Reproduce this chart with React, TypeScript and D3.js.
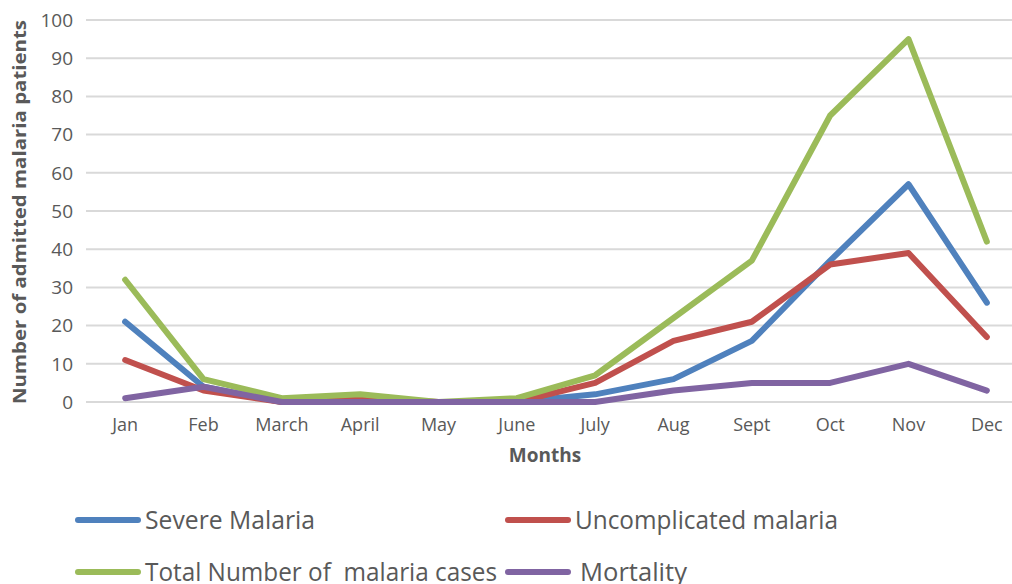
import * as d3 from "d3"

const MONTHS = ["Jan", "Feb", "March", "April", "May", "June", "July", "Aug", "Sept", "Oct", "Nov", "Dec"]
const SEVERE = [21, 4, 0, 0, 0, 0, 2, 6, 16, 37, 57, 26]
const UNCOMPLICATED = [11, 3, 0, 1, 0, 0, 5, 16, 21, 36, 39, 17]
const TOTAL = [32, 6, 1, 2, 0, 1, 7, 22, 37, 75, 95, 42]
const MORTALITY = [1, 4, 0, 0, 0, 0, 0, 3, 5, 5, 10, 3]
const Y_TICKS = [0, 10, 20, 30, 40, 50, 60, 70, 80, 90, 100]

const SERIES = [
  { name: "Severe Malaria", values: SEVERE, color: "#4F81BD" },
  { name: "Uncomplicated malaria", values: UNCOMPLICATED, color: "#C0504D" },
  { name: "Total Number of  malaria cases", values: TOTAL, color: "#9BBB59" },
  { name: "Mortality", values: MORTALITY, color: "#8064A2" },
]

const W = 1012
const H = 584
const FONT = "'Open Sans', 'Noto Sans', sans-serif"

// legend slots: [lineX, textX, y, textWidth]
const LEGEND_POS: [number, number, number, number][] = [
  [78, 145, 520, 170],
  [508, 575, 520, 263],
  [78, 145, 572, 352],
  [508, 580, 572, 107],
]

export default function App() {
  const x = d3.scaleBand<string>().domain(MONTHS).range([86, 1026])
  const y = d3.scaleLinear().domain([0, 100]).range([402, 20])
  const cx = (m: string) => (x(m) ?? 0) + x.bandwidth() / 2

  const line = d3
    .line<number>()
    .x((_, i) => cx(MONTHS[i]))
    .y((d) => y(d))

  return (
    <div style={{ position: "absolute", left: 0, top: 0 }}>
      <svg width={W} height={H} viewBox={`0 0 ${W} ${H}`} style={{ display: "block", background: "#fff" }}>
        <rect width={W} height={H} fill="#fff" />
        {Y_TICKS.map((t) => (
          <g key={t}>
            <line x1={86} x2={W} y1={y(t)} y2={y(t)} stroke="#D9D9D9" strokeWidth={2} />
            <text
              x={73}
              y={y(t)}
              dy="0.36em"
              textAnchor="end"
              fontFamily={FONT}
              fontSize={19}
              fill="#595959"
            >
              {t}
            </text>
          </g>
        ))}

        {MONTHS.map((m) => (
          <text key={m} x={cx(m)} y={431} textAnchor="middle" fontFamily={FONT} fontSize={18} fill="#595959">
            {m}
          </text>
        ))}

        {SERIES.map((s) => (
          <path
            key={s.name}
            d={line(s.values) ?? ""}
            fill="none"
            stroke={s.color}
            strokeWidth={6}
            strokeLinejoin="round"
            strokeLinecap="round"
          />
        ))}

        <text
          transform="translate(26, 212) rotate(-90)"
          textAnchor="middle"
          fontFamily={FONT}
          fontSize={18}
          fontWeight="bold"
          fill="#595959"
          textLength={384}
          lengthAdjust="spacingAndGlyphs"
        >
          Number of admitted malaria patients
        </text>
        <text x={545} y={462} textAnchor="middle" fontFamily={FONT} fontSize={19} fontWeight="bold" fill="#595959">
          Months
        </text>

        {SERIES.map((s, i) => {
          const [lx, tx, ly, tw] = LEGEND_POS[i]
          return (
            <g key={s.name}>
              <line x1={lx} x2={lx + 60} y1={ly} y2={ly} stroke={s.color} strokeWidth={6} strokeLinecap="round" />
              <text
                x={tx}
                y={ly}
                dy="0.36em"
                fontFamily={FONT}
                fontSize={26}
                fill="#595959"
                textLength={tw}
                lengthAdjust="spacingAndGlyphs"
                style={{ whiteSpace: "pre" }}
              >
                {s.name}
              </text>
            </g>
          )
        })}
      </svg>
    </div>
  )
}
